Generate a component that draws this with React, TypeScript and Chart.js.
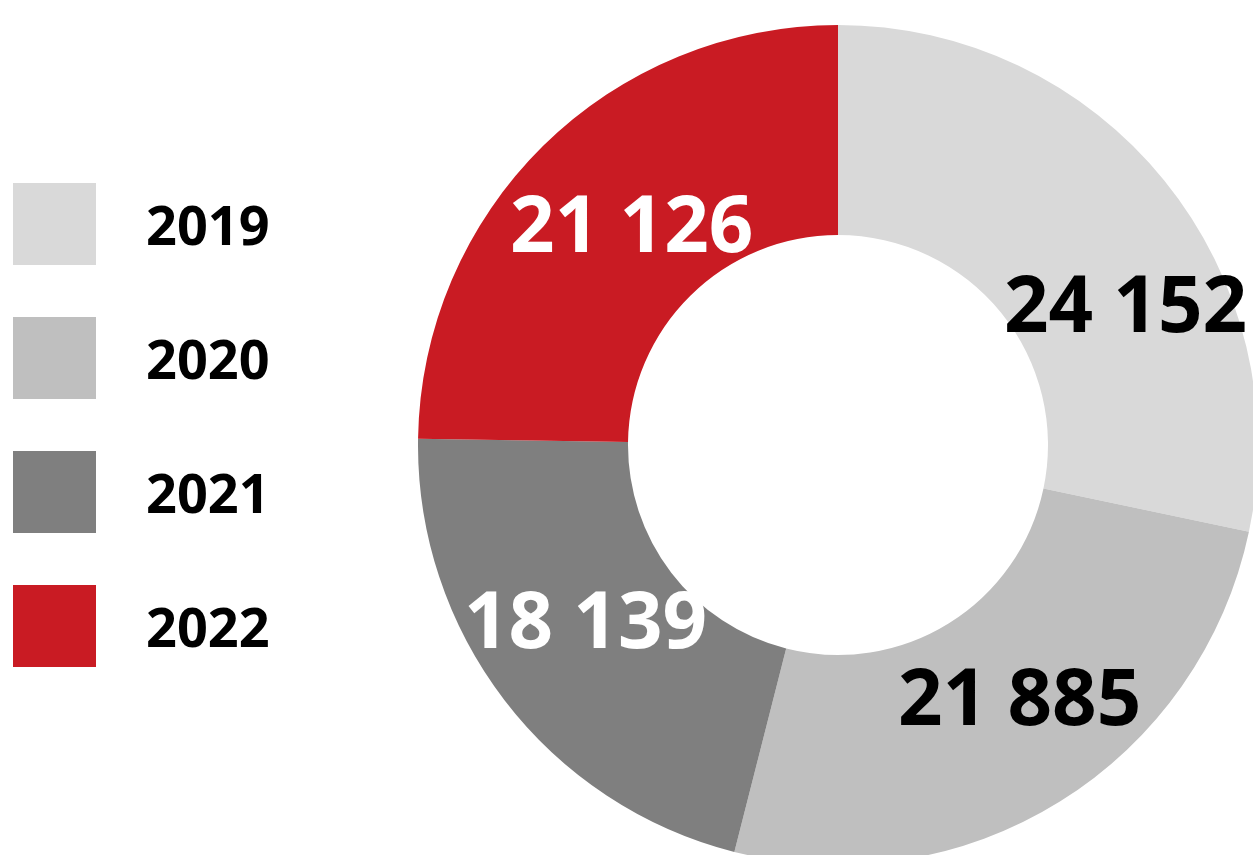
import React, { useEffect, useRef } from "react";
import { Chart, registerables } from "chart.js";

Chart.register(...registerables);

const years = ["2019", "2020", "2021", "2022"];
const values = [24152, 21885, 18139, 21126];
const colors = ["#D9D9D9", "#BFBFBF", "#7F7F7F", "#C91B23"];
const labelColors = ["#000000", "#000000", "#FFFFFF", "#FFFFFF"];
const labelAngleShift = [13.3, -3.6, 2.3, 1.2];
const labelRingFrac = [0.52, 0.49, 0.47, 0.43];

const FONT = "'Open Sans', 'Noto Sans', sans-serif";

function fmt(v: number): string {
  return String(v).replace(/\B(?=(\d{3})+(?!\d))/g, " ");
}

const labelPlugin = {
  id: "arcLabels",
  afterDatasetsDraw(chart: any) {
    const ctx = chart.ctx;
    const meta = chart.getDatasetMeta(0);
    ctx.save();
    ctx.font = `700 78px ${FONT}`;
    ctx.textAlign = "center";
    ctx.textBaseline = "middle";
    meta.data.forEach((arc: any, i: number) => {
      const p = arc.getProps(["x", "y", "startAngle", "endAngle", "innerRadius", "outerRadius"], true);
      const a = (p.startAngle + p.endAngle) / 2 + (labelAngleShift[i] * Math.PI) / 180;
      const r = p.innerRadius + labelRingFrac[i] * (p.outerRadius - p.innerRadius);
      ctx.fillStyle = labelColors[i];
      ctx.fillText(fmt(values[i]), p.x + r * Math.cos(a), p.y + r * Math.sin(a) + 3);
    });
    ctx.restore();
  },
};

export default function App() {
  const ref = useRef<HTMLCanvasElement | null>(null);
  useEffect(() => {
    if (!ref.current) return;
    const chart = new Chart(ref.current, {
      type: "doughnut",
      data: {
        labels: years,
        datasets: [
          {
            data: values,
            backgroundColor: colors,
            borderWidth: 0,
          },
        ],
      },
      options: {
        animation: false,
        responsive: false,
        maintainAspectRatio: false,
        cutout: "50%",
        layout: { padding: 0 },
        plugins: {
          legend: { display: false },
          tooltip: { enabled: false },
        },
      },
      plugins: [labelPlugin],
    });
    return () => chart.destroy();
  }, []);

  return (
    <div
      style={{
        position: "fixed",
        left: 0,
        top: 0,
        width: 1253,
        height: 855,
        overflow: "hidden",
        background: "#FFFFFF",
      }}
    >
      <canvas
        ref={ref}
        width={840}
        height={840}
        style={{ position: "absolute", left: 418, top: 25, width: 840, height: 840 }}
      />
      {years.map((y, i) => (
        <div key={y}>
          <div
            style={{
              position: "absolute",
              left: 13,
              top: 183 + i * 134,
              width: 83,
              height: 82,
              background: colors[i],
            }}
          />
          <div
            style={{
              position: "absolute",
              left: 146,
              top: 183 + i * 134,
              height: 82,
              lineHeight: "82px",
              fontFamily: FONT,
              fontWeight: 700,
              fontSize: 54,
              color: "#000",
            }}
          >
            {y}
          </div>
        </div>
      ))}
    </div>
  );
}
